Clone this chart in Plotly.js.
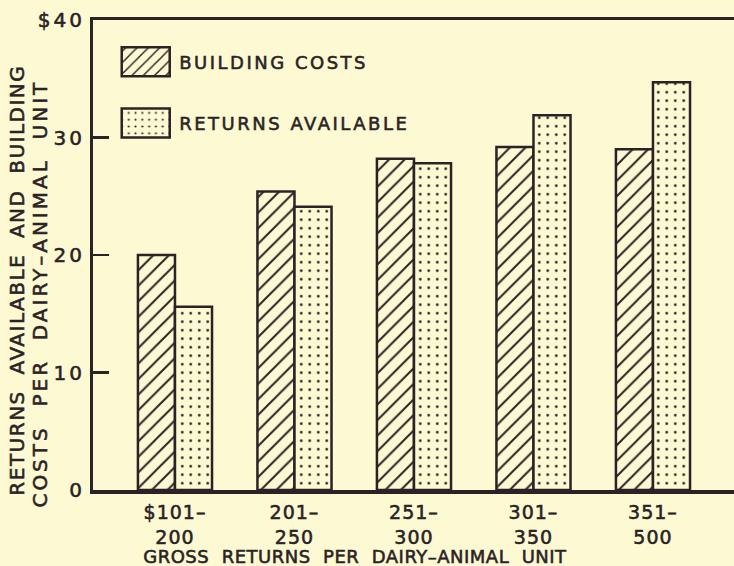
<!DOCTYPE html>
<html>
<head>
<meta charset="utf-8">
<script src="https://cdn.plot.ly/plotly-3.0.1.min.js"></script>
<style>
  html, body { margin: 0; padding: 0; background: #fcf9d3; }
  #chart { width: 734px; height: 566px; }
</style>
</head>
<body>
<div id="chart"></div>
<script>
// ---- data ----
const categories = ["$101–<br>200", "201–<br>250", "251–<br>300", "301–<br>350", "351–<br>500"];
const buildingCosts = [20.0, 25.4, 28.2, 29.2, 29.0];
const returnsAvailable = [15.6, 24.1, 27.8, 31.9, 34.7];
const yTickVals = [0, 10, 20, 30, 40];
const yTickText = ["0", "10", "20", "30", "$40"];
const seriesNames = ["BUILDING COSTS", "RETURNS AVAILABLE"];
const xTitle = "GROSS  RETURNS  PER  DAIRY–ANIMAL  UNIT";
const yTitle1 = "RETURNS  AVAILABLE  AND  BUILDING";
const yTitle2 = "COSTS  PER  DAIRY–ANIMAL  UNIT";

const BG = "#fcf9d3";
const INK = "#2a2326";
const FONT = "DejaVu Sans";

const traces = [
  {
    type: "bar", name: seriesNames[0], x: categories, y: buildingCosts,
    legendgroup: "a",
    marker: {
      color: BG,
      line: { color: INK, width: 2.5 },
      pattern: { shape: "/", fgcolor: INK, bgcolor: BG, size: 11, solidity: 0.18, fillmode: "replace" }
    }
  },
  {
    type: "bar", name: seriesNames[1], x: categories, y: returnsAvailable,
    legendgroup: "b",
    marker: {
      color: BG,
      line: { color: INK, width: 2.5 },
      pattern: { shape: ".", fgcolor: INK, bgcolor: BG, size: 8.5, solidity: 0.08, fillmode: "replace" }
    }
  }
];

const layout = {
  width: 734, height: 566,
  margin: { l: 93, r: 0, t: 20, b: 76 },
  paper_bgcolor: BG, plot_bgcolor: BG,
  font: { family: FONT, color: INK, size: 18 },
  barmode: "group", bargap: 0.38, bargroupgap: 0,
  showlegend: true,
  legend: {
    x: 0.03, y: 0.95, xanchor: "left", yanchor: "top",
    bgcolor: "rgba(0,0,0,0)", font: { family: FONT, size: 18, color: INK },
    traceorder: "grouped", tracegroupgap: 35, itemwidth: 57
  },
  xaxis: {
    type: "category", range: [-0.686, 4.678],
    showline: true, linecolor: INK, linewidth: 3.5, mirror: true,
    ticks: "", showgrid: false, zeroline: false,
    tickfont: { family: FONT, size: 19, color: INK },
    ticklabelstandoff: 3, fixedrange: true
  },
  yaxis: {
    range: [0, 40],
    showline: true, linecolor: INK, linewidth: 3,
    ticks: "inside", ticklen: 16, tickwidth: 2.5, tickcolor: INK,
    tickvals: yTickVals, ticktext: yTickText,
    showgrid: false, zeroline: false,
    tickfont: { family: FONT, size: 20, color: INK },
    ticklabelstandoff: 1, fixedrange: true
  },
  annotations: [
    { text: xTitle, xref: "paper", yref: "paper", x: 0.41, y: -0.1412, xanchor: "center", yanchor: "middle",
      showarrow: false, font: { family: FONT, size: 18, color: INK } },
    { text: yTitle1, xref: "paper", yref: "paper", x: -0.1186, y: 0.447, xanchor: "center", yanchor: "middle",
      textangle: -90, showarrow: false, font: { family: FONT, size: 20, color: INK } },
    { text: yTitle2, xref: "paper", yref: "paper", x: -0.0827, y: 0.42, xanchor: "center", yanchor: "middle",
      textangle: -90, showarrow: false, font: { family: FONT, size: 20, color: INK } }
  ]
};

Plotly.newPlot("chart", traces, layout, { staticPlot: true, displayModeBar: false }).then(function () {
  function ls(t, v) { t.style.letterSpacing = v; t.style.stroke = INK; t.style.strokeWidth = "0.55px"; }
  document.querySelectorAll("#chart .xtick text").forEach(function (t) { ls(t, "1px"); });
  document.querySelectorAll("#chart .ytick text").forEach(function (t) { ls(t, "3px"); });
  document.querySelectorAll("#chart .legendtext").forEach(function (t) { ls(t, "2.5px"); });
  document.querySelectorAll("#chart .annotation-text").forEach(function (t) {
    const s = t.textContent || "";
    if (s.indexOf("GROSS") === 0) ls(t, "0.5px");
    else if (s.indexOf("RETURNS") === 0) ls(t, "1.5px");
    else ls(t, "3px");
  });
  document.querySelectorAll("#chart .legend [clip-path]").forEach(function (e) {
    e.removeAttribute("clip-path");
  });
  document.querySelectorAll("#chart .legend .legendpoints path").forEach(function (p) {
    p.setAttribute("d", "M-24,-14.5H24V14.5H-24Z");
    p.style.strokeWidth = "2.5px";
  });
});
</script>
</body>
</html>
